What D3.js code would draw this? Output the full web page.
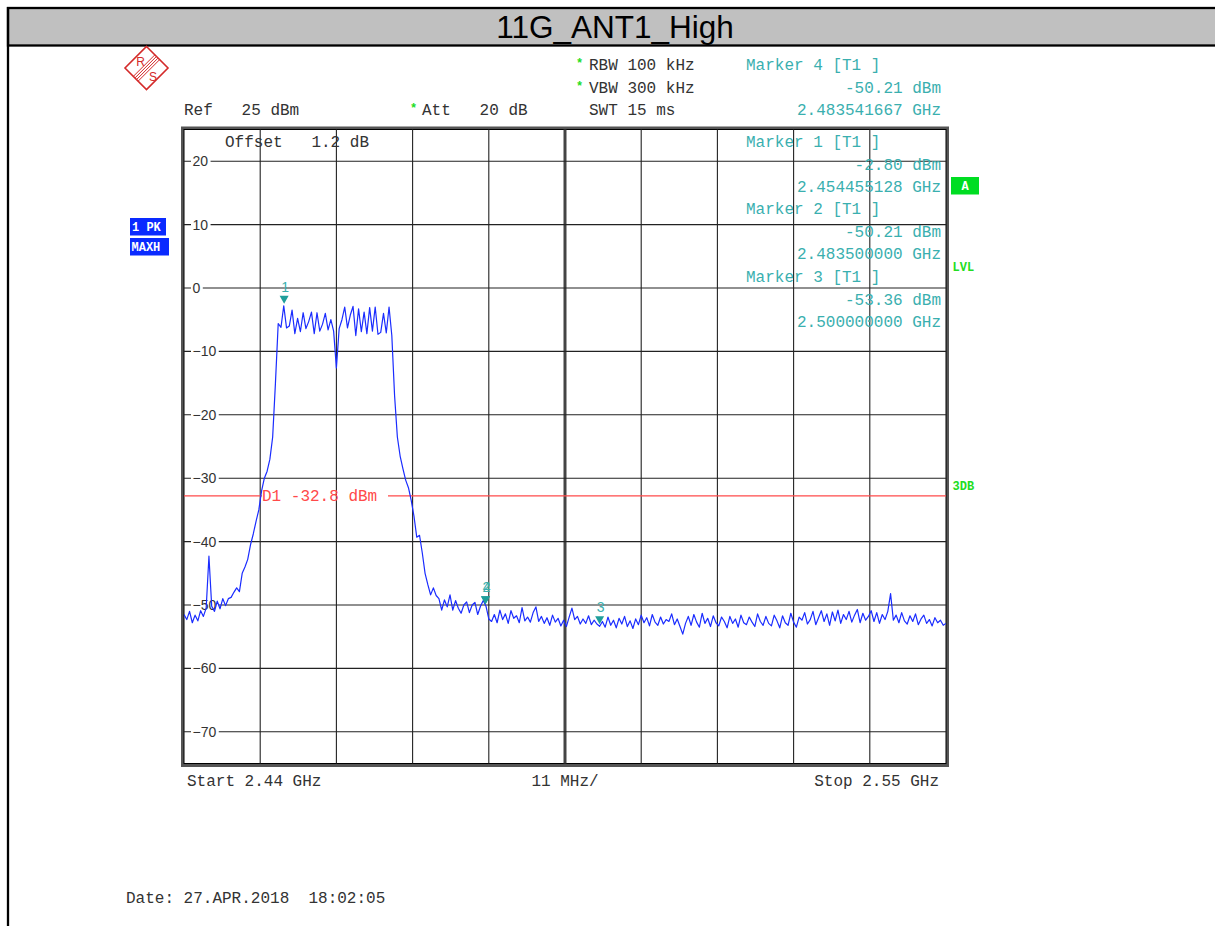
<!DOCTYPE html>
<html><head><meta charset="utf-8">
<script src="https://cdn.jsdelivr.net/npm/d3@7"></script>
<style>body{margin:0;background:#fff;} svg{display:block;}</style>
</head><body>
<svg id="c" width="1215" height="926"></svg>
<script>
// ---------- data ----------
const title = "11G_ANT1_High";
const startMHz = 2440, stopMHz = 2550, stepMHz = 0.4;
const refDbm = 25, bottomDbm = -75;
const yTickValues = [20, 10, 0, -10, -20, -30, -40, -50, -60, -70];
const xGridMHz = [2440, 2451, 2462, 2473, 2484, 2495, 2506, 2517, 2528, 2539, 2550];
const traceDbm = [
  -51.5,-52.3,-51.0,-52.8,-51.6,-52.5,-50.9,-51.8,-50.5,-42.3,
  -50.2,-51.0,-49.4,-50.6,-49.0,-50.1,-49.0,-48.8,-48.0,-47.3,
  -47.9,-45.0,-44.0,-42.8,-40.5,-38.8,-36.8,-35.0,-32.0,-30.0,
  -28.9,-27.0,-23.5,-15.0,
  -5.6,-6.2,-2.8,-6.3,-6.0,-3.5,-7.2,-4.8,-6.9,-3.9,
  -6.4,-5.3,-3.8,-7.2,-3.9,-6.8,-5.7,-4.0,-6.6,-5.0,
  -6.8,-12.6,-6.4,-5.0,-3.0,-6.3,-4.3,-2.9,-7.5,-3.3,
  -6.9,-3.8,-7.2,-3.1,-6.8,-3.0,-7.3,-7.0,-4.0,-7.1,
  -3.0,-7.5,
  -17.0,-23.5,-26.5,-28.5,-30.3,-31.5,-33.5,-36.0,-39.3,-39.0,
  -41.8,-45.0,-46.8,-48.4,-47.3,-48.5,-49.0,-50.8,-49.2,-50.3,
  -48.4,-50.8,-49.3,-50.5,-51.3,-50.0,-49.5,-51.2,-50.0,-49.6,
  -51.5,-50.2,-49.3,-50.2,
  -52.2,-52.6,-51.5,-52.8,-50.8,-52.3,-51.4,-52.9,-50.9,-52.1,
  -51.7,-52.8,-50.4,-52.5,-51.9,-52.7,-51.2,-50.3,-52.6,-51.8,
  -52.9,-52.0,-53.2,-51.6,-52.7,-52.1,-53.3,-52.4,-53.4,-51.9,
  -50.5,-52.3,-51.8,-53.0,-52.2,-52.9,-51.7,-53.1,-52.4,-53.0,
  -53.36,-52.6,-53.5,-51.9,-53.2,-52.4,-53.6,-52.1,-53.0,-51.8,
  -53.4,-52.5,-53.7,-52.2,-53.1,-51.6,-52.8,-52.0,-53.3,-51.5,
  -52.7,-53.2,-51.9,-53.0,-52.3,-52.6,-51.4,-53.1,-52.2,-53.4,
  -54.6,-52.9,-51.8,-53.2,-51.5,-52.7,-53.5,-51.3,-52.9,-52.1,
  -53.4,-51.7,-52.8,-53.3,-51.9,-52.6,-53.6,-51.8,-52.9,-52.2,
  -53.5,-51.6,-52.8,-53.1,-51.9,-52.7,-53.4,-51.4,-52.6,-53.2,
  -51.8,-52.9,-53.3,-51.6,-52.5,-53.6,-51.7,-52.8,-53.2,-51.3,
  -52.7,-53.5,-51.9,-52.4,-51.2,-53.0,-52.3,-51.0,-53.1,-52.0,
  -50.9,-52.6,-51.4,-53.2,-51.1,-52.5,-50.8,-52.9,-51.5,-52.3,
  -51.0,-52.7,-51.6,-50.7,-52.8,-51.3,-52.4,-51.8,-50.9,-52.6,
  -51.2,-52.9,-51.5,-52.3,-51.0,-48.2,-52.4,-51.6,-52.8,-51.2,
  -52.5,-53.0,-51.7,-52.6,-51.4,-53.1,-52.2,-51.6,-52.9,-52.3,
  -53.3,-52.0,-52.8,-52.4,-53.2,-52.9
];
const markerIds = ["1", "2", "3", "4"];
const markerFreqMHz = [2454.455128, 2483.5, 2500.0, 2483.541667];
const markerDbm = [-2.80, -50.21, -53.36, -50.21];
const markerTitles = ["Marker 4 [T1 ]", "Marker 1 [T1 ]", "Marker 2 [T1 ]", "Marker 3 [T1 ]"];
const markerLevels = ["-50.21 dBm", "-2.80 dBm", "-50.21 dBm", "-53.36 dBm"];
const markerFreqs = ["2.483541667 GHz", "2.454455128 GHz", "2.483500000 GHz", "2.500000000 GHz"];
const displayLineDbm = -32.8;
const displayLineLabel = "D1 -32.8 dBm";

// ---------- drawing ----------
const svg = d3.select("#c");
const MONO = "'Liberation Mono','Courier New',monospace";
const SANS = "'Liberation Sans',Arial,sans-serif";
const TXT = "#333";
const TEAL = "#3aafaf";
const GREEN = "#22dd22";

const x = d3.scaleLinear().domain([startMHz, stopMHz]).range([184, 946]);
const y = d3.scaleLinear().domain([refDbm, bottomDbm]).range([129.5, 763.5]);

// title bar
svg.append("rect").attr("x", 8).attr("y", 8).attr("width", 1215).attr("height", 37.5)
  .attr("fill", "#c0c0c0").attr("stroke", "#000").attr("stroke-width", 2.3);
svg.append("line").attr("x1", 8).attr("x2", 8).attr("y1", 7).attr("y2", 926)
  .attr("stroke", "#000").attr("stroke-width", 2.3);
svg.append("text").attr("x", 615).attr("y", 37.5).attr("text-anchor", "middle")
  .attr("font-family", SANS).attr("font-size", 31.5).attr("fill", "#000").text(title);

// R&S logo
const lg = svg.append("g").attr("transform", "translate(146.5,68)");
lg.append("path").attr("d", "M0,-21.5 L21.5,0 L0,21.5 L-21.5,0 Z")
  .attr("fill", "#fff").attr("stroke", "#d42a2a").attr("stroke-width", 1.6);
[-2.4, -0.8, 0.8, 2.4].forEach(o => {
  lg.append("line").attr("x1", 10.7 + o).attr("y1", -10.7 + o).attr("x2", -10.7 + o).attr("y2", 10.7 + o)
    .attr("stroke", "#d42a2a").attr("stroke-width", 1);
});
lg.append("text").attr("x", -6).attr("y", -2).attr("text-anchor", "middle")
  .attr("font-family", SANS).attr("font-size", 12).attr("fill", "#d42a2a").text("R");
lg.append("text").attr("x", 6.5).attr("y", 12.5).attr("text-anchor", "middle")
  .attr("font-family", SANS).attr("font-size", 12).attr("fill", "#d42a2a").text("S");

// header texts
function mono(xp, yp, t, color, anchor) {
  return svg.append("text").attr("x", xp).attr("y", yp).attr("text-anchor", anchor || "start")
    .attr("font-family", MONO).attr("font-size", 16).attr("fill", color || TXT)
    .attr("xml:space", "preserve").style("white-space", "pre").text(t);
}
function star(xp, yp) {
  svg.append("text").attr("x", xp).attr("y", yp).attr("font-family", MONO)
    .attr("font-size", 12).attr("font-weight", "bold").attr("fill", GREEN).text("*");
}
mono(184, 115, "Ref   25 dBm");
star(410, 112); mono(422, 115, "Att   20 dB");
star(576, 67); mono(589, 70, "RBW 100 kHz");
star(576, 90); mono(589, 93, "VBW 300 kHz");
mono(589, 115, "SWT 15 ms");

// plot frame
svg.append("rect").attr("x", 182.5).attr("y", 128).attr("width", 765).attr("height", 637.5)
  .attr("fill", "#fff").attr("stroke", "#555").attr("stroke-width", 3);
svg.append("rect").attr("x", 184).attr("y", 129.5).attr("width", 762).attr("height", 634)
  .attr("fill", "none").attr("stroke", "#000").attr("stroke-width", 1);

// grid
const grid = svg.append("g");
xGridMHz.slice(1, -1).forEach((f, i) => {
  const center = (i === 4);
  grid.append("line").attr("x1", x(f)).attr("x2", x(f)).attr("y1", 129.5).attr("y2", 763.5)
    .attr("stroke", center ? "#444" : "#222").attr("stroke-width", center ? 3 : 1.1);
});
yTickValues.forEach(v => {
  grid.append("line").attr("x1", 184).attr("x2", 946).attr("y1", y(v)).attr("y2", y(v))
    .attr("stroke", "#222").attr("stroke-width", 1.1);
});
// y labels with white backing
yTickValues.forEach(v => {
  const t = svg.append("text").attr("x", 192.5).attr("y", y(v) + 5)
    .attr("font-family", SANS).attr("font-size", 14).attr("fill", TXT)
    .text(v < 0 ? "\u2212" + Math.abs(v) : String(v));
  const w = t.node().getComputedTextLength();
  svg.insert("rect", () => t.node()).attr("x", 191).attr("y", y(v) - 2).attr("width", w + 4).attr("height", 4).attr("fill", "#fff");
});

mono(225, 147, "Offset   1.2 dB");

// display line D1
const dly = y(displayLineDbm);
svg.append("line").attr("x1", 184).attr("x2", 262).attr("y1", dly).attr("y2", dly)
  .attr("stroke", "#ff4a4a").attr("stroke-width", 1.2);
svg.append("line").attr("x1", 388).attr("x2", 946).attr("y1", dly).attr("y2", dly)
  .attr("stroke", "#ff4a4a").attr("stroke-width", 1.2);
mono(262, dly + 5, displayLineLabel, "#ff4a4a");

// trace
svg.append("clipPath").attr("id", "pc").append("rect").attr("x", 184).attr("y", 129.5).attr("width", 762).attr("height", 634);
const pts = traceDbm.map((v, i) => [startMHz + i * stepMHz, v]);
svg.append("path").datum(pts).attr("clip-path", "url(#pc)")
  .attr("d", d3.line().x(d => x(d[0])).y(d => y(d[1])))
  .attr("fill", "none").attr("stroke", "#1a2cff").attr("stroke-width", 1.2).attr("stroke-linejoin", "round");

// markers
markerIds.forEach((id, i) => {
  const mx = x(markerFreqMHz[i]), my = y(markerDbm[i]);
  svg.append("path").attr("d", `M${mx - 4.5},${my - 10} L${mx + 4.5},${my - 10} L${mx},${my - 2} Z`)
    .attr("fill", "#1f9e9a");
  svg.append("text").attr("x", mx + 1).attr("y", my - 14).attr("text-anchor", "middle")
    .attr("font-family", SANS).attr("font-size", 14).attr("fill", TEAL).text(id);
});

// marker info block
const infoY = [70, 147, 214, 282];
markerTitles.forEach((t, i) => {
  const by = infoY[i];
  mono(746, by, t, TEAL);
  mono(941, by + 22.5, markerLevels[i], TEAL, "end");
  mono(941, by + 44.5, markerFreqs[i], TEAL, "end");
});

// right side annotations
svg.append("rect").attr("x", 951).attr("y", 177).attr("width", 28).attr("height", 17.5).attr("fill", "#00dd22");
svg.append("text").attr("x", 965).attr("y", 190).attr("text-anchor", "middle").attr("font-family", MONO)
  .attr("font-size", 12).attr("font-weight", "bold").attr("fill", "#fff").text("A");
svg.append("text").attr("x", 952.5).attr("y", 271).attr("font-family", MONO)
  .attr("font-size", 12).attr("font-weight", "bold").attr("fill", GREEN).text("LVL");
svg.append("text").attr("x", 952.5).attr("y", 490).attr("font-family", MONO)
  .attr("font-size", 12).attr("font-weight", "bold").attr("fill", GREEN).text("3DB");

// left trace info boxes
svg.append("rect").attr("x", 130).attr("y", 218).attr("width", 36).attr("height", 17.5).attr("fill", "#0a2aff");
svg.append("text").attr("x", 132).attr("y", 231).attr("font-family", MONO).attr("font-size", 12)
  .attr("font-weight", "bold").attr("fill", "#fff").attr("xml:space", "preserve").style("white-space", "pre").text("1 PK");
svg.append("rect").attr("x", 130).attr("y", 238).attr("width", 39).attr("height", 17.5).attr("fill", "#0a2aff");
svg.append("text").attr("x", 131.5).attr("y", 251).attr("font-family", MONO).attr("font-size", 12)
  .attr("font-weight", "bold").attr("fill", "#fff").text("MAXH");

// bottom texts
mono(187, 786, "Start 2.44 GHz");
mono(565, 786, "11 MHz/", TXT, "middle");
mono(939, 786, "Stop 2.55 GHz", TXT, "end");
mono(126, 903, "Date: 27.APR.2018  18:02:05");
</script>
</body></html>
